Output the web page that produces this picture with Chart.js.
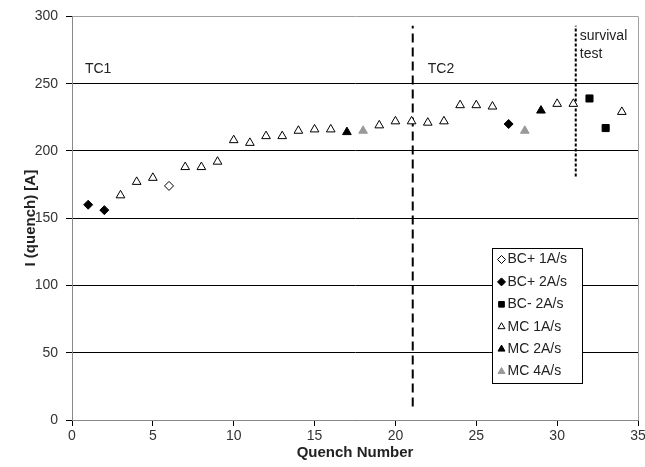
<!DOCTYPE html>
<html>
<head>
<meta charset="utf-8">
<script src="https://cdn.jsdelivr.net/npm/chart.js@4/dist/chart.umd.min.js"></script>
<style>
html,body{margin:0;padding:0;background:#fff;}
#wrap{width:645px;height:467px;position:relative;}
</style>
</head>
<body>
<div id="wrap"><canvas id="c" width="645" height="467"></canvas></div>
<script>
// ---- data ----
const bcPlus1 = [[6,174]];
const bcPlus2 = [[1,160],[2,156],[27,220]];
const bcMinus2 = [[32,239],[33,217]];
const mc1 = [[3,167],[4,177],[5,180],[7,188],[8,188],[9,192],[10,208],[11,206],[12,211],[13,211],[14,215],[15,216],[16,216],[19,219],[20,222],[21,222],[22,221],[23,222],[24,234],[25,234],[26,233],[30,235],[31,235],[34,229]];
const mc2 = [[17,214],[29,230]];
const mc4 = [[18,215],[28,215]];
const seriesLabels = ['BC+ 1A/s','BC+ 2A/s','BC- 2A/s','MC 1A/s','MC 2A/s','MC 4A/s'];
const tc1Line = [[21.07,10],[21.07,293]];
const survivalLine = [[31.15,181],[31.15,293]];
const annotations = [
  {text:'TC1', x:0.8, y:261},
  {text:'TC2', x:22.0, y:261},
  {text:'survival', x:31.4, y:285},
  {text:'test', x:31.4, y:272}
];
const xTicks = [0,5,10,15,20,25,30,35];
const yTicks = [0,50,100,150,200,250,300];

const FONT = 'Liberation Sans, Arial, sans-serif';
const pts = a => a.map(p => ({x:p[0], y:p[1]}));

function ds(label, data, style, fill, radius){
  return {label, data: pts(data), type:'scatter', showLine:false,
    pointStyle: style, pointRadius: radius, pointHoverRadius: radius,
    pointBackgroundColor: fill, pointBorderColor: fill==='#ffffff' ? '#000' : fill,
    pointBorderWidth: 1, isSeries:true};
}
function vline(data, dash){
  return {label:'', data: pts(data), type:'line', showLine:true, borderColor:'#000',
    borderWidth:2, borderDash:dash, pointRadius:0, fill:false, isSeries:false};
}

const datasets = [
  ds(seriesLabels[0], bcPlus1, 'rectRot', '#ffffff', 4.5),
  ds(seriesLabels[1], bcPlus2, 'rectRot', '#000000', 4.5),
  ds(seriesLabels[2], bcMinus2, 'rect', '#000000', 5),
  ds(seriesLabels[3], mc1, 'triangle', '#ffffff', 5),
  ds(seriesLabels[4], mc2, 'triangle', '#000000', 5),
  ds(seriesLabels[5], mc4, 'triangle', '#999999', 5),
  vline(tc1Line, [9,5]),
  vline(survivalLine, [3,2])
];

const framePlugin = {
  id:'frame',
  beforeDatasetsDraw(chart){
    const {ctx, chartArea:a} = chart;
    ctx.save();
    ctx.strokeStyle = '#a0a0a0'; ctx.lineWidth = 1;
    ctx.beginPath();
    ctx.moveTo(Math.round(a.right)+0.5, a.top);
    ctx.lineTo(Math.round(a.right)+0.5, a.bottom);
    ctx.stroke();
    ctx.restore();
  },
  afterDatasetsDraw(chart){
    const {ctx, scales:{x,y}} = chart;
    ctx.save();
    ctx.font = '14px ' + FONT;
    ctx.fillStyle = '#222';
    ctx.textBaseline = 'middle';
    ctx.textAlign = 'left';
    annotations.forEach(a => ctx.fillText(a.text, x.getPixelForValue(a.x), y.getPixelForValue(a.y)));
    // legend
    const bx = 492.5, by = 248.5, bw = 90, bh = 135;
    ctx.fillStyle = '#fff';
    ctx.fillRect(bx, by, bw, bh);
    ctx.strokeStyle = '#000'; ctx.lineWidth = 1;
    ctx.strokeRect(bx, by, bw, bh);
    const series = chart.data.datasets.filter(d => d.isSeries);
    series.forEach((d,i) => {
      const cy = by + 11 + i*22.4;
      ctx.fillStyle = d.pointBackgroundColor;
      ctx.strokeStyle = d.pointBorderColor;
      ctx.lineWidth = 1;
      Chart.helpers.drawPoint(ctx, {pointStyle:d.pointStyle, radius:4, rotation:0, borderWidth:1}, bx + 9, cy);
      ctx.fillStyle = '#222';
      ctx.font = '14px ' + FONT;
      ctx.fillText(d.label, bx + 15, cy);
    });
    ctx.restore();
  }
};

new Chart(document.getElementById('c'), {
  type:'scatter',
  data:{datasets},
  plugins:[framePlugin],
  options:{
    responsive:false, animation:false,
    layout:{padding:{top:15, right:0, left:0, bottom:0}},
    plugins:{legend:{display:false}, tooltip:{enabled:false}},
    scales:{
      x:{type:'linear', min:0, max:35,
        afterBuildTicks(s){ s.ticks = xTicks.map(v=>({value:v})); },
        afterFit(s){ s.height = 47; s.paddingRight = 7; s.paddingLeft = 0; },
        ticks:{color:'#333', font:{family:FONT, size:14}, padding:2, maxRotation:0, autoSkip:false},
        grid:{drawOnChartArea:false, tickLength:6, tickColor:'#000'},
        border:{color:'#888', width:1},
        title:{display:true, text:'Quench Number', color:'#222', font:{family:FONT, size:15, weight:'bold'}, padding:{top:0,bottom:5}}
      },
      y:{type:'linear', min:0, max:300,
        afterBuildTicks(s){ s.ticks = yTicks.map(v=>({value:v})); },
        afterFit(s){ s.width = 72; },
        ticks:{color:'#333', font:{family:FONT, size:14}, padding:8},
        grid:{tickLength:6, tickColor:'#000',
          color: c => (c.tick && c.tick.value === 300) ? '#a0a0a0' : '#000'},
        border:{color:'#888', width:1},
        title:{display:true, text:'I (quench) [A]', color:'#222', font:{family:FONT, size:15, weight:'bold'}, padding:{top:22,bottom:0}}
      }
    }
  }
});
</script>
</body>
</html>
